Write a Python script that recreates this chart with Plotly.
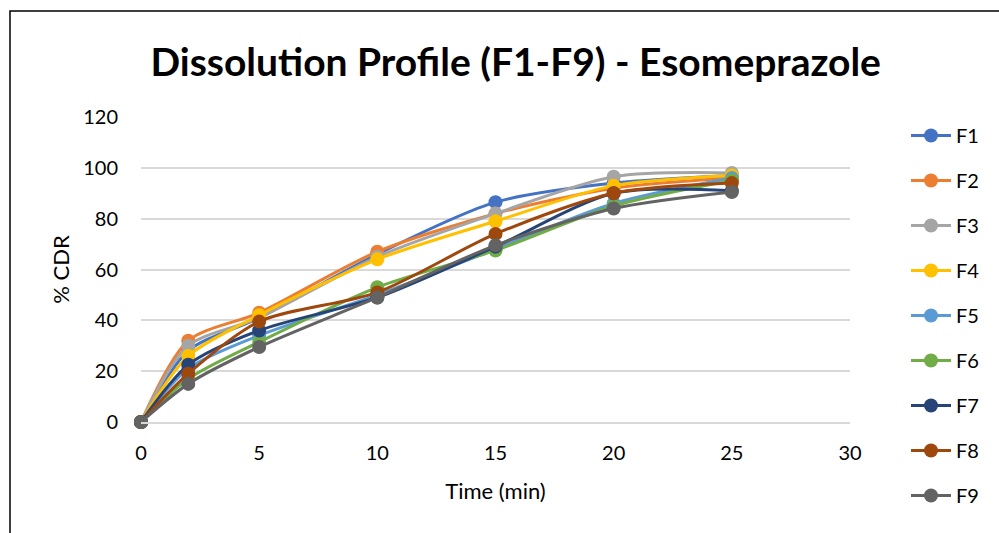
import plotly.graph_objects as go

time_min = [0, 2, 5, 10, 15, 20, 25]
F1 = [0, 28, 41, 66, 86.5, 94, 97]
F2 = [0, 32, 43, 67, 82, 92, 96]
F3 = [0, 30, 41, 65, 82, 96.5, 98]
F4 = [0, 26, 42, 64, 79, 93, 97]
F5 = [0, 21, 34, 50, 68, 86, 96]
F6 = [0, 17, 31.5, 53, 67.5, 85, 95]
F7 = [0, 22.5, 36, 49, 69, 90, 91]
F8 = [0, 19, 39.5, 51, 74, 90, 94]
F9 = [0, 15, 29.5, 49, 69.5, 84, 90.5]

names = ["F1", "F2", "F3", "F4", "F5", "F6", "F7", "F8", "F9"]
series = [F1, F2, F3, F4, F5, F6, F7, F8, F9]
colors = ["#4472C4", "#ED7D31", "#A5A5A5", "#FFC000", "#5B9BD5",
          "#70AD47", "#264478", "#9E480E", "#636363"]

FONT = "Lato"
fig = go.Figure()
for n, s, c in zip(names, series, colors):
    fig.add_trace(go.Scatter(
        x=time_min, y=s, name=n, mode="lines+markers",
        line=dict(color=c, width=3, shape="spline", smoothing=0.8),
        marker=dict(color=c, size=14),
        legendgroup=n, cliponaxis=False,
    ))

L, R, T, B = 141, 149, 117, 111
W, H = 999, 533
pw, ph = W - L - R, H - T - B

def px_x(p):
    return (p - L) / pw

def px_y(p):
    return (H - B - p) / ph

fig.add_shape(type="rect", xref="paper", yref="paper",
              x0=px_x(10), x1=px_x(1010), y0=px_y(545), y1=px_y(11),
              line=dict(color="#000000", width=1.5), fillcolor="rgba(0,0,0,0)",
              layer="below")

fig.update_layout(
    width=W, height=H,
    margin=dict(l=L, r=R, t=T, b=B),
    paper_bgcolor="white", plot_bgcolor="white",
    font=dict(family=FONT, color="#000000", size=19),
    title=dict(text="<b>Dissolution Profile (F1-F9) - Esomeprazole</b>",
               x=px_x(507), xanchor="center", y=1 - 62 / H, yanchor="middle",
               font=dict(family=FONT, size=39, color="#000000")),
    xaxis=dict(range=[0, 30], tickvals=[0, 5, 10, 15, 20, 25, 30],
               showgrid=False, zeroline=False, showline=True,
               linecolor="#D9D9D9", linewidth=1.5,
               ticklabelstandoff=12,
               title=dict(text="Time (min)", font=dict(size=22), standoff=21),
               tickfont=dict(size=20)),
    yaxis=dict(range=[0, 120], tickvals=[0, 20, 40, 60, 80, 100, 120],
               showgrid=True, gridcolor="#D9D9D9", gridwidth=1.5,
               zeroline=False, showline=False, ticks="",
               ticklabelstandoff=22,
               title=dict(text="% CDR", font=dict(size=22), standoff=7),
               tickfont=dict(size=20)),
    legend=dict(x=px_x(906), xanchor="left", y=px_y(116), yanchor="top",
                tracegroupgap=16, font=dict(size=20), itemwidth=40,
                maxheight=1.0, bgcolor="rgba(0,0,0,0)"),
    showlegend=True,
)

fig.write_html("out.html")
